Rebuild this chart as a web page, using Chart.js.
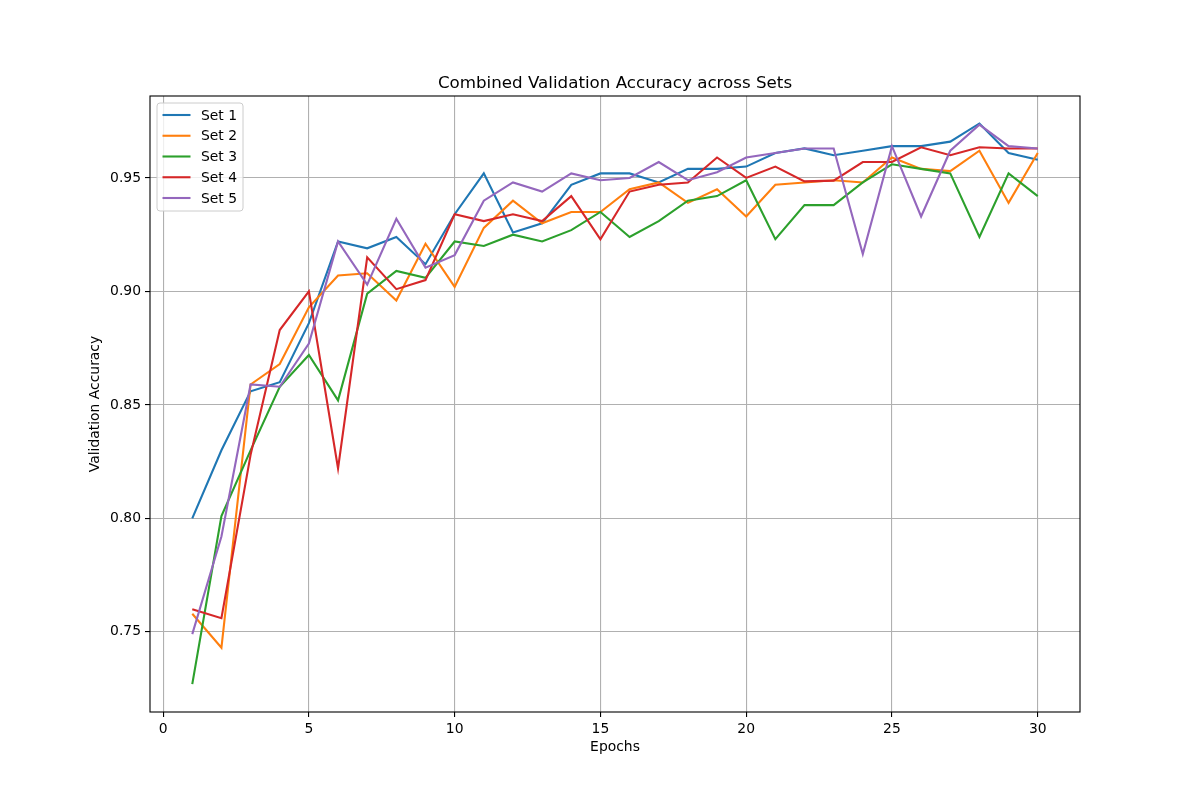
<!DOCTYPE html>
<html>
<head>
<meta charset="utf-8">
<title>Combined Validation Accuracy across Sets</title>
<script src="https://cdn.jsdelivr.net/npm/chart.js@4.4.1/dist/chart.umd.min.js"></script>
<style>
    body { margin: 0; background: #ffffff; }
    #wrap { width: 1200px; height: 800px; }
</style>
</head>
<body>
<div id="wrap"><canvas id="acc" width="1200" height="800"></canvas></div>
<script>
const epochs = [1, 2, 3, 4, 5, 6, 7, 8, 9, 10, 11, 12, 13, 14, 15, 16, 17, 18, 19, 20, 21, 22, 23, 24, 25, 26, 27, 28, 29, 30];

const set1 = [0.800, 0.830, 0.856, 0.860, 0.886, 0.922, 0.919, 0.924, 0.912, 0.934, 0.952, 0.926, 0.930, 0.947, 0.952, 0.952, 0.948, 0.954, 0.954, 0.955, 0.961, 0.963, 0.960, 0.962, 0.964, 0.964, 0.966, 0.974, 0.961, 0.958];
const set2 = [0.758, 0.743, 0.859, 0.868, 0.893, 0.907, 0.908, 0.896, 0.921, 0.902, 0.928, 0.940, 0.930, 0.935, 0.935, 0.945, 0.948, 0.939, 0.945, 0.933, 0.947, 0.948, 0.949, 0.948, 0.959, 0.954, 0.953, 0.962, 0.939, 0.961];
const set3 = [0.727, 0.801, 0.830, 0.858, 0.872, 0.852, 0.899, 0.909, 0.906, 0.922, 0.920, 0.925, 0.922, 0.927, 0.935, 0.924, 0.931, 0.940, 0.942, 0.949, 0.923, 0.938, 0.938, 0.948, 0.956, 0.954, 0.952, 0.924, 0.952, 0.942];
const set4 = [0.760, 0.756, 0.828, 0.883, 0.900, 0.822, 0.915, 0.901, 0.905, 0.934, 0.931, 0.934, 0.931, 0.942, 0.923, 0.944, 0.947, 0.948, 0.959, 0.950, 0.955, 0.9485, 0.9488, 0.957, 0.957, 0.9635, 0.960, 0.9635, 0.963, 0.963];
const set5 = [0.749, 0.792, 0.859, 0.858, 0.877, 0.922, 0.903, 0.932, 0.9105, 0.916, 0.940, 0.948, 0.944, 0.952, 0.949, 0.950, 0.957, 0.949, 0.9525, 0.959, 0.961, 0.963, 0.963, 0.9165, 0.964, 0.933, 0.962, 0.9735, 0.964, 0.963];

const setNames = ['Set 1', 'Set 2', 'Set 3', 'Set 4', 'Set 5'];
const xTicks = [0, 5, 10, 15, 20, 25, 30];
const yTicks = [0.75, 0.80, 0.85, 0.90, 0.95];

const colors = ['#1f77b4', '#ff7f0e', '#2ca02c', '#d62728', '#9467bd'];
const font = 'DejaVu Sans';

Chart.defaults.color = '#000000';
Chart.defaults.font.family = font;
Chart.defaults.font.size = 13.9;


function toPoints(values)
{
    return values.map((v, i) => ({ x: epochs[i], y: v }));
}


// title over the plot area and black frame round it, like matplotlib
const frame =
{
    id: 'frame',
    afterDraw(chart)
    {
        const a = chart.chartArea;
        const ctx = chart.ctx;
        ctx.save();
        ctx.strokeStyle = '#000000';
        ctx.lineWidth = 1.1;
        ctx.strokeRect(a.left, a.top, a.right - a.left, a.bottom - a.top);
        ctx.fillStyle = '#000000';
        ctx.font = '16.7px "' + font + '"';
        ctx.textAlign = 'center';
        ctx.textBaseline = 'alphabetic';
        ctx.fillText('Combined Validation Accuracy across Sets', (a.left + a.right) / 2, a.top - 8.5);
        ctx.restore();
    }
};


// legend box in the upper left corner of the plot area
const insideLegend =
{
    id: 'insideLegend',
    afterDatasetsDraw(chart)
    {
        const a = chart.chartArea;
        const ctx = chart.ctx;
        const x0 = a.left + 7;
        const y0 = a.top + 7;
        const w = 86;
        const h = 108;
        ctx.save();
        ctx.beginPath();
        ctx.roundRect(x0, y0, w, h, 3);
        ctx.fillStyle = 'rgba(255, 255, 255, 0.8)';
        ctx.fill();
        ctx.strokeStyle = '#cccccc';
        ctx.lineWidth = 1;
        ctx.stroke();
        ctx.font = '13.9px "' + font + '"';
        ctx.textAlign = 'left';
        ctx.textBaseline = 'middle';
        chart.data.datasets.forEach((ds, i) => {
            const y = y0 + 12 + i * 20.75;
            ctx.beginPath();
            ctx.moveTo(x0 + 5.5, y);
            ctx.lineTo(x0 + 33.5, y);
            ctx.strokeStyle = ds.borderColor;
            ctx.lineWidth = 2.1;
            ctx.stroke();
            ctx.fillStyle = '#000000';
            ctx.fillText(ds.label, x0 + 44, y + 1);
        });
        ctx.restore();
    }
};


const allSets = [set1, set2, set3, set4, set5];

const chartData =
{
    datasets: allSets.map((values, i) => ({
        label: setNames[i],
        data: toPoints(values),
        borderColor: colors[i],
        backgroundColor: colors[i],
        borderWidth: 2.1,
        pointRadius: 0,
        tension: 0,
        order: allSets.length - i
    }))
};

const config =
{
    type: 'line',
    data: chartData,
    options:
    {
        responsive: false,
        animation: false,
        layout:
        {
            padding: { left: 80, right: 120, top: 96, bottom: 40 }
        },
        plugins:
        {
            legend: { display: false },
            title: { display: false },
            tooltip: { enabled: false }
        },
        scales:
        {
            x:
            {
                type: 'linear',
                min: -0.45,
                max: 31.45,
                afterFit: (scale) => { scale.height = 48; },
                afterBuildTicks: (scale) => { scale.ticks = xTicks.map(v => ({ value: v })); },
                ticks:
                {
                    padding: 4,
                    maxRotation: 0,
                    callback: (v) => String(v)
                },
                grid:
                {
                    color: '#b0b0b0',
                    lineWidth: 1.1,
                    tickLength: 5,
                    tickColor: '#000000',
                    tickWidth: 1.1
                },
                border: { display: false },
                title:
                {
                    display: true,
                    text: 'Epochs',
                    padding: { top: 0, bottom: 4.5 }
                }
            },
            y:
            {
                type: 'linear',
                min: 0.7147,
                max: 0.9861,
                afterFit: (scale) => { scale.width = 70; },
                afterBuildTicks: (scale) => { scale.ticks = yTicks.map(v => ({ value: v })); },
                ticks:
                {
                    padding: 4,
                    callback: (v) => v.toFixed(2)
                },
                grid:
                {
                    color: '#b0b0b0',
                    lineWidth: 1.1,
                    tickLength: 5,
                    tickColor: '#000000',
                    tickWidth: 1.1
                },
                border: { display: false },
                title:
                {
                    display: true,
                    text: 'Validation Accuracy',
                    padding: { top: 7.5, bottom: 0 }
                }
            }
        }
    },
    plugins: [frame, insideLegend]
};

new Chart(document.getElementById('acc'), config);
</script>
</body>
</html>
